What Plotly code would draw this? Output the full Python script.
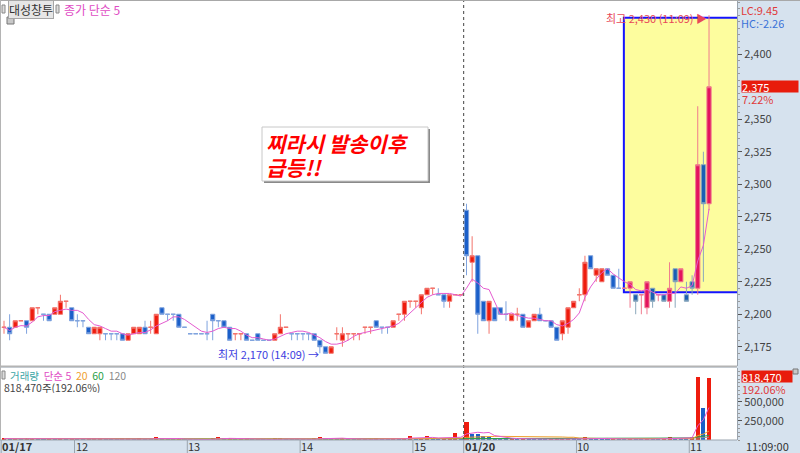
import numpy as np
import pandas as pd
import plotly.graph_objects as go

# 대성창투 3분봉 : 01/17 11:21 ~ 15:30, 01/20 09:00 ~ 11:09
day1_times = pd.date_range('2025-01-17 11:21', '2025-01-17 15:21', freq='3min').append(
    pd.DatetimeIndex(['2025-01-17 15:30']))
day2_times = pd.date_range('2025-01-20 09:00', '2025-01-20 11:09', freq='3min')
times = day1_times.append(day2_times)

open_ = [2190, 2190, 2190, 2195, 2195, 2195, 2205, 2200, 2200, 2200,
         2200, 2210, 2205, 2195, 2195, 2190, 2185, 2185, 2185, 2185,
         2185, 2185, 2180, 2185, 2185, 2190, 2190, 2185, 2205, 2200,
         2200, 2200, 2190, 2185, 2185, 2185, 2185, 2200, 2195, 2195,
         2190, 2185, 2185, 2185, 2180, 2185, 2180, 2180, 2180, 2185,
         2190, 2185, 2185, 2185, 2185, 2185, 2180, 2175, 2170, 2185,
         2180, 2185, 2185, 2185, 2190, 2190, 2195, 2190, 2190, 2190,
         2200, 2200, 2210, 2210, 2205, 2215, 2220, 2215, 2215, 2210,
         2215, 2215,
         2280, 2240, 2245, 2210, 2195, 2205, 2205, 2200, 2195, 2200,
         2200, 2190, 2195, 2200, 2195, 2195, 2190, 2185, 2190, 2205,
         2215, 2215, 2245, 2230, 2225, 2235, 2230, 2220, 2220, 2220,
         2215, 2215, 2205, 2220, 2215, 2215, 2210, 2235, 2225, 2215,
         2225, 2220, 2315, 2285]
high = [2195, 2200, 2195, 2195, 2195, 2205, 2205, 2200, 2200, 2205,
        2215, 2210, 2205, 2200, 2195, 2190, 2190, 2190, 2185, 2185,
        2185, 2185, 2185, 2190, 2190, 2195, 2195, 2200, 2205, 2200,
        2200, 2200, 2190, 2185, 2185, 2185, 2195, 2200, 2195, 2195,
        2190, 2185, 2185, 2185, 2180, 2185, 2180, 2180, 2185, 2200,
        2190, 2185, 2185, 2185, 2185, 2185, 2180, 2175, 2175, 2190,
        2190, 2185, 2185, 2185, 2190, 2190, 2195, 2190, 2190, 2195,
        2200, 2210, 2210, 2210, 2215, 2220, 2220, 2220, 2215, 2215,
        2215, 2215,
        2285, 2260, 2245, 2210, 2210, 2205, 2205, 2210, 2200, 2205,
        2200, 2195, 2200, 2205, 2195, 2195, 2190, 2195, 2205, 2210,
        2220, 2245, 2245, 2235, 2235, 2235, 2230, 2235, 2220, 2225,
        2215, 2215, 2225, 2220, 2215, 2215, 2240, 2235, 2235, 2225,
        2230, 2360, 2325, 2430]
low = [2185, 2180, 2190, 2195, 2185, 2195, 2200, 2195, 2195, 2200,
       2200, 2205, 2195, 2190, 2190, 2185, 2185, 2180, 2180, 2180,
       2180, 2180, 2180, 2185, 2185, 2185, 2185, 2185, 2200, 2195,
       2195, 2190, 2190, 2185, 2185, 2185, 2180, 2180, 2190, 2190,
       2180, 2180, 2180, 2180, 2180, 2180, 2180, 2180, 2180, 2185,
       2190, 2180, 2180, 2180, 2180, 2180, 2170, 2170, 2170, 2180,
       2175, 2180, 2180, 2180, 2185, 2185, 2190, 2185, 2185, 2190,
       2195, 2195, 2205, 2205, 2200, 2215, 2215, 2215, 2205, 2205,
       2215, 2215,
       2230, 2225, 2185, 2195, 2185, 2195, 2200, 2195, 2195, 2195,
       2190, 2190, 2195, 2195, 2195, 2190, 2180, 2180, 2185, 2205,
       2210, 2210, 2235, 2225, 2225, 2230, 2220, 2220, 2220, 2205,
       2200, 2200, 2200, 2205, 2210, 2210, 2205, 2205, 2225, 2210,
       2215, 2215, 2225, 2280]
close = [2190, 2185, 2195, 2195, 2190, 2205, 2205, 2200, 2195, 2205,
         2210, 2210, 2195, 2195, 2195, 2185, 2190, 2190, 2185, 2185,
         2185, 2180, 2185, 2190, 2190, 2185, 2190, 2200, 2200, 2200,
         2200, 2190, 2190, 2185, 2185, 2185, 2185, 2195, 2195, 2190,
         2180, 2185, 2185, 2180, 2180, 2180, 2180, 2180, 2185, 2190,
         2190, 2185, 2185, 2185, 2185, 2180, 2175, 2170, 2175, 2185,
         2185, 2185, 2185, 2185, 2190, 2190, 2190, 2190, 2190, 2195,
         2200, 2210, 2210, 2210, 2215, 2220, 2220, 2215, 2210, 2215,
         2215, 2215,
         2245, 2245, 2200, 2195, 2210, 2195, 2200, 2200, 2200, 2200,
         2190, 2195, 2200, 2195, 2195, 2190, 2180, 2195, 2205, 2210,
         2215, 2240, 2235, 2235, 2235, 2230, 2220, 2220, 2220, 2225,
         2210, 2215, 2225, 2210, 2215, 2210, 2220, 2225, 2235, 2210,
         2220, 2315, 2285, 2375]
volume = [18000, 12000, 22000, 8000, 15000, 26000, 14000, 10000, 16000, 12000,
          30000, 9000, 20000, 11000, 8000, 15000, 18000, 22000, 7000, 6000,
          5000, 14000, 17000, 12000, 15000, 13000, 6000, 40000, 25000, 8000,
          7000, 18000, 5000, 6000, 4000, 5000, 12000, 22000, 38000, 14000,
          20000, 7000, 8000, 16000, 6000, 12000, 5000, 6000, 15000, 28000,
          9000, 7000, 6000, 8000, 9000, 18000, 38000, 26000, 20000, 14000,
          22000, 10000, 8000, 9000, 11000, 12000, 15000, 8000, 7000, 16000,
          14000, 30000, 55000, 20000, 25000, 48000, 22000, 18000, 24000, 30000,
          95000, 12000,
          237000, 85000, 80000, 55000, 40000, 28000, 20000, 15000, 18000, 12000,
          16000, 14000, 12000, 10000, 6000, 9000, 14000, 16000, 20000, 18000,
          15000, 35000, 22000, 18000, 16000, 12000, 14000, 10000, 8000, 12000,
          10000, 9000, 16000, 12000, 8000, 10000, 45000, 25000, 20000, 15000,
          38000, 835000, 426150, 818470]

box_start = 110  # 노란 박스 시작 봉

W, H = 800, 453
MR, MB = 63, 13
PW, PH = W - MR, H - MB


def fx(px):
    return px / PW


def fy(py):
    return (PH - py) / PH


idx = np.arange(len(close))
df = pd.DataFrame(dict(o=open_, h=high, l=low, c=close, v=volume), index=idx)
ma5 = df.c.rolling(5, min_periods=1).mean()
vma = {n: df.v.rolling(n, min_periods=1).mean() for n in (5, 20, 60, 120)}
vol_colors = ['#ee1c0e' if i == 0 or df.v[i] >= df.v[i - 1] else '#1a5fc9' for i in idx]

fig = go.Figure()

# 노란 박스
fig.add_shape(type='rect', xref='x', yref='y', x0=box_start - 0.1, x1=131, y0=2217, y1=2428,
              fillcolor='#fdfd9e', line=dict(color='#1414ff', width=2), layer='below')

a = df.loc[:box_start - 1]
b = df.loc[box_start:]
fig.add_trace(go.Candlestick(
    x=a.index, open=a.o, high=a.h, low=a.l, close=a.c, whiskerwidth=0,
    increasing=dict(fillcolor='#ee1c0e', line=dict(color='#f3736b', width=1)),
    decreasing=dict(fillcolor='#1a5fc9', line=dict(color='#7fa3de', width=1)),
    showlegend=False))
fig.add_trace(go.Candlestick(
    x=b.index, open=b.o, high=b.h, low=b.l, close=b.c, whiskerwidth=0,
    increasing=dict(fillcolor='#e3145e', line=dict(color='#f07b8e', width=1)),
    decreasing=dict(fillcolor='#1a5fb4', line=dict(color='#8aa8bc', width=1)),
    showlegend=False))
fig.add_trace(go.Scatter(x=idx, y=ma5, mode='lines', line=dict(color='#e55bd0', width=1),
                         showlegend=False))

fig.add_trace(go.Bar(x=idx, y=df.v, marker=dict(color=vol_colors, line_width=0), width=0.72,
                     yaxis='y2', showlegend=False))
for n, col in [(120, '#9a9a9a'), (60, '#2aa048'), (20, '#f0a030'), (5, '#e55bd0')]:
    fig.add_trace(go.Scatter(x=idx, y=vma[n], mode='lines', line=dict(color=col, width=1),
                             yaxis='y2', showlegend=False))

# 시간축 라벨
tick_i, tick_t, tick_bold = [], [], []
for i, t in enumerate(times):
    if i == 0 or t.date() != times[i - 1].date():
        tick_i.append(i); tick_t.append(t.strftime('%m/%d')); tick_bold.append(True)
    elif t.hour != times[i - 1].hour:
        tick_i.append(i); tick_t.append(str(t.hour)); tick_bold.append(False)

ann = []
for i, t, bold in zip(tick_i, tick_t, tick_bold):
    fig.add_shape(type='line', xref='x', yref='paper', x0=i - 0.5, x1=i - 0.5,
                  y0=fy(440), y1=fy(453), line=dict(color='#9aa4ae', width=1))
    ann.append(dict(x=i - 0.5, xref='x', y=fy(446), yref='paper', xanchor='left', yanchor='middle',
                    xshift=0, showarrow=False, borderpad=0,
                    text=f'<b>{t}</b>' if bold else t,
                    font=dict(size=11, color='#333')))

# 날짜 구분선
day_split = len(day1_times) - 0.5
fig.add_shape(type='line', xref='x', yref='paper', x0=day_split, x1=day_split, y0=0, y1=1,
              line=dict(color='#444', width=1, dash='dot'))

# 패널 테두리
fig.add_shape(type='line', xref='paper', yref='paper', x0=0, x1=1, y0=fy(366.5), y1=fy(366.5),
              line=dict(color='#b4b4b4', width=2))
fig.add_shape(type='line', xref='paper', yref='paper', x0=0, x1=1, y0=fy(440), y1=fy(440),
              line=dict(color='#9aa4ae', width=1))
fig.add_shape(type='line', xref='paper', yref='paper', x0=0, x1=1.1, y0=fy(0.5), y1=fy(0.5),
              line=dict(color='#a8a8a8', width=1))
fig.add_shape(type='line', xref='paper', yref='paper', x0=fx(0.5), x1=fx(0.5), y0=0, y1=1,
              line=dict(color='#b4b4b4', width=1))

# 헤더
fig.add_shape(type='rect', xref='paper', yref='paper', x0=fx(2), x1=fx(5), y0=fy(5), y1=fy(13),
              line=dict(color='#888', width=1), fillcolor='#ddd')
fig.add_shape(type='rect', xref='paper', yref='paper', x0=fx(56), x1=fx(59), y0=fy(5), y1=fy(13),
              line=dict(color='#888', width=1), fillcolor='#ddd')
fig.add_shape(type='rect', xref='paper', yref='paper', x0=fx(7), x1=fx(14), y0=fy(17), y1=fy(24),
              line=dict(color='#777', width=1), fillcolor='#c8c8c8')
ann.append(dict(x=fx(8), y=fy(9), xref='paper', yref='paper', xanchor='left', yanchor='middle',
                text='대성창투', showarrow=False, bgcolor='#e6e6e6', bordercolor='#a6a6a6',
                borderwidth=1, borderpad=0, font=dict(size=12, color='#333')))
ann.append(dict(x=fx(63), y=fy(9), xref='paper', yref='paper', xanchor='left', yanchor='middle',
                text='종가 단순 5', showarrow=False, borderpad=0,
                font=dict(size=12, color='#e04cc4')))

# 메모 상자
fig.add_shape(type='rect', xref='paper', yref='paper', x0=fx(264), x1=fx(430), y0=fy(183), y1=fy(129),
              line=dict(width=0), fillcolor='#8a8a8a')
fig.add_shape(type='rect', xref='paper', yref='paper', x0=fx(262), x1=fx(428), y0=fy(181), y1=fy(127),
              line=dict(color='#c8c8c8', width=1), fillcolor='white')
for txt, yy in [('찌라시 발송이후', 143), ('급등!!', 167)]:
    ann.append(dict(x=fx(265), y=fy(yy), xref='paper', yref='paper', xanchor='left', yanchor='middle',
                    text=f'<b><i>{txt}</i></b>', showarrow=False, borderpad=0,
                    font=dict(size=21, color='#ff0000')))

# 최고/최저
hi_i = int(np.argmax(high))
lo_i = int(np.argmin(low))
ann.append(dict(x=hi_i, y=high[hi_i], xref='x', yref='y', xanchor='right', yanchor='middle',
                xshift=-1, yshift=-3, showarrow=False, borderpad=0,
                text=f'최고 {high[hi_i]:,} ({times[hi_i]:%H:%M}) ▶',
                font=dict(size=11, color='#e8485a')))
ann.append(dict(x=lo_i, y=low[lo_i], xref='x', yref='y', xanchor='right', yanchor='middle',
                xshift=0, yshift=-1, showarrow=False, borderpad=0,
                text=f'최저 {low[lo_i]:,} ({times[lo_i]:%H:%M}) →',
                font=dict(size=11, color='#3c3ce0')))

# 오른쪽 축 라벨
last = close[-1]
prev_close = close[len(day1_times) - 1]
lc = (last - min(low)) / min(low) * 100
hc = (last - max(high)) / max(high) * 100
ann.append(dict(x=fx(740), y=fy(10), xref='paper', yref='paper', xanchor='left', yanchor='middle',
                text=f'LC:{lc:.2f}', showarrow=False, borderpad=0, height=11,
                font=dict(size=11, color='#e03a3a')))
ann.append(dict(x=fx(740), y=fy(22), xref='paper', yref='paper', xanchor='left', yanchor='middle',
                text=f'HC:{hc:.2f}', showarrow=False, bgcolor='#d6e2ee', borderpad=0, height=11,
                font=dict(size=11, color='#3a72d8')))
ann.append(dict(x=fx(741), y=last, xref='paper', yref='y', xanchor='left', yanchor='middle',
                text=f'{last:,}', showarrow=False, bgcolor='#e81c0c', width=56, height=11,
                align='left', borderpad=0, font=dict(size=11, color='white')))
ann.append(dict(x=fx(741), y=last, xref='paper', yref='y', xanchor='left', yanchor='middle',
                yshift=-12, text=f'{(last / prev_close - 1) * 100:.2f}%', showarrow=False,
                borderpad=0, height=11, font=dict(size=11, color='#e03a3a')))
ann.append(dict(x=fx(741), y=volume[-1], xref='paper', yref='y2', xanchor='left', yanchor='middle',
                yshift=1, text=f'{volume[-1]:,}', showarrow=False, bgcolor='#e81c0c', width=50,
                height=11, align='left', borderpad=0, font=dict(size=11, color='white')))
ann.append(dict(x=fx(741), y=volume[-1], xref='paper', yref='y2', xanchor='left', yanchor='middle',
                yshift=-11, text=f'{volume[-1] / volume[-2] * 100:.2f}%', showarrow=False,
                borderpad=0, height=11, font=dict(size=11, color='#e03a3a')))
fig.add_shape(type='rect', xref='paper', yref='paper', x0=fx(793), x1=fx(798), y0=fy(374), y1=fy(369),
              line=dict(color='#777', width=1), fillcolor='#c8c8c8')
ann.append(dict(x=fx(745), y=fy(446), xref='paper', yref='paper', xanchor='left', yanchor='middle',
                text=f'{times[-1]:%H:%M:%S}', showarrow=False, borderpad=0,
                font=dict(size=11, color='#333')))

# 거래량 헤더
fig.add_shape(type='rect', xref='paper', yref='paper', x0=fx(2), x1=fx(5), y0=fy(379), y1=fy(371),
              line=dict(color='#888', width=1), fillcolor='#ddd')
vol_head = [('거래량', '#3aa6a6'), ('단순 5', '#e04cc4'), ('20', '#f0a030'),
            ('60', '#2aa048'), ('120', '#8a8a8a')]
ann.append(dict(x=fx(9), y=fy(375), xref='paper', yref='paper', xanchor='left', yanchor='middle',
                text='  '.join(f'<span style="color:{c}">{t}</span>' for t, c in vol_head),
                showarrow=False, borderpad=0, height=11, font=dict(size=10.5)))
ann.append(dict(x=fx(3), y=fy(387.5), xref='paper', yref='paper', xanchor='left', yanchor='middle',
                text=f'{volume[-1]:,}주({volume[-1] / volume[-2] * 100:.2f}%)', showarrow=False,
                borderpad=0, height=11, font=dict(size=10.5, color='#444')))

price_ticks = list(range(2175, 2425, 25))
price_ticks.remove(2375)

fig.update_layout(
    width=W, height=H,
    margin=dict(l=0, r=MR, t=0, b=MB),
    paper_bgcolor='#d6e2ee', plot_bgcolor='white',
    font=dict(family='Noto Sans CJK KR, Noto Sans, sans-serif', size=11, color='#444'),
    xaxis=dict(range=[-0.71, 129.96], showticklabels=False, showgrid=False, zeroline=False,
               ticks='', rangeslider=dict(visible=False), fixedrange=True),
    yaxis=dict(domain=[fy(366), 1], range=[2160.2, 2441.7], side='right', tickvals=price_ticks,
               tickformat=',d', ticks='outside', ticklen=4, tickcolor='#555', showline=True,
               linecolor='#9aa4ae', showgrid=False, zeroline=False,
               tickfont=dict(size=11, color='#444'),
               minor=dict(tick0=2175, dtick=5, ticks='outside', ticklen=2, tickcolor='#9a9a9a')),
    yaxis2=dict(domain=[0, fy(368)], range=[0, 947000], side='right', anchor='x',
                tickvals=[250000, 500000], tickformat=',d', ticks='outside', ticklen=4,
                tickcolor='#555', showline=True, linecolor='#9aa4ae', showgrid=False,
                zeroline=False, tickfont=dict(size=11, color='#444'),
                minor=dict(tick0=0, dtick=50000, ticks='outside', ticklen=2, tickcolor='#9a9a9a')),
    annotations=ann,
    bargap=0,
    boxgap=0.25,
    boxgroupgap=0,
    hovermode=False,
)

fig.write_html("out.html", config={'displayModeBar': False},
               post_script="document.body.style.margin='0';")
